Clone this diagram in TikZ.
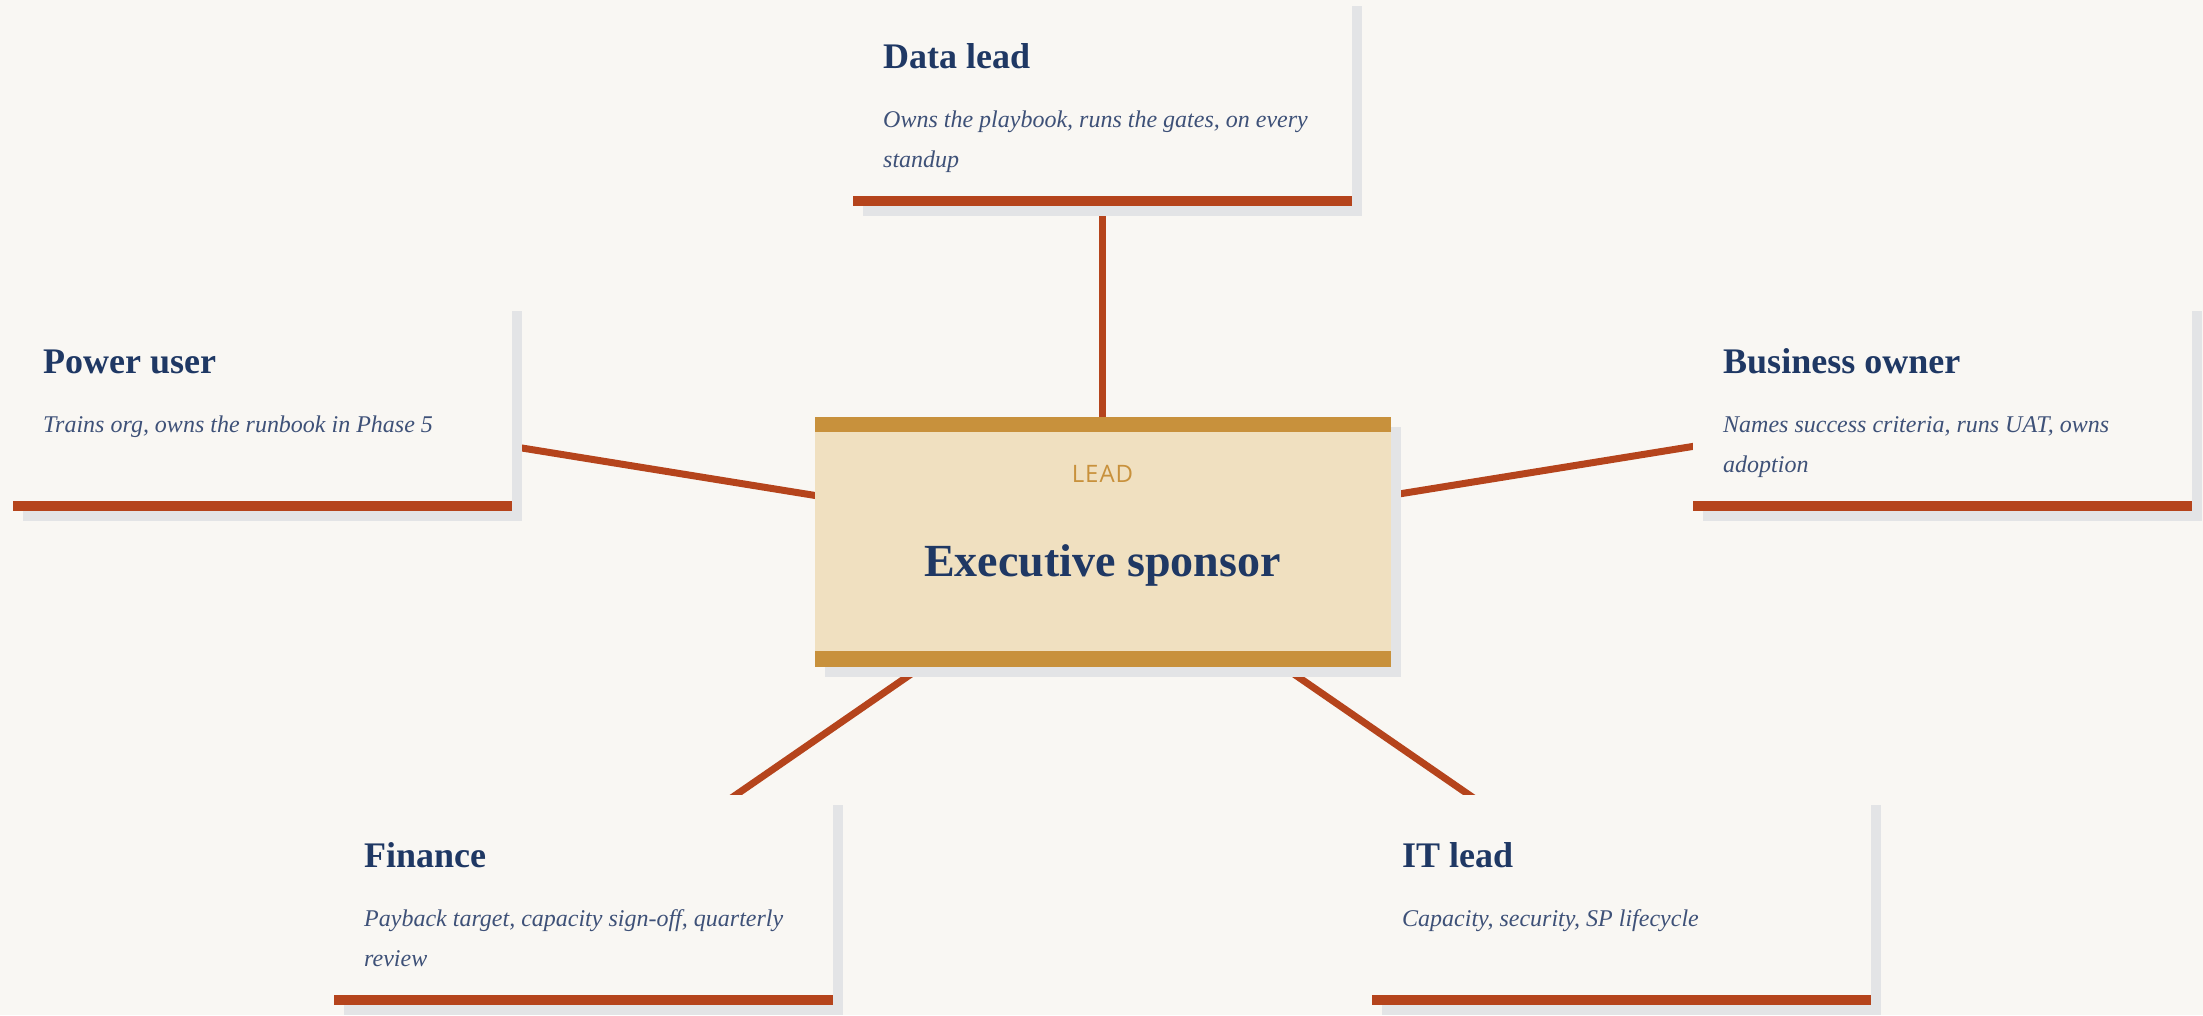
\documentclass[tikz,border=0pt]{standalone}
\usepackage{fontspec}
\setmainfont{Liberation Serif}
\newfontfamily\leadfont[LetterSpace=4]{Open Sans}
\usetikzlibrary{shadows}
\definecolor{bgc}{HTML}{F9F7F3}
\definecolor{shadowc}{HTML}{E3E4E6}
\definecolor{barc}{HTML}{B5441C}
\definecolor{navyc}{HTML}{1F3864}
\definecolor{slatec}{HTML}{3E5178}
\definecolor{execfill}{HTML}{F0E0C0}
\definecolor{goldc}{HTML}{C8913C}
\pgfdeclarelayer{backdrop}
\pgfdeclarelayer{links}
\pgfsetlayers{backdrop,links,main}
\tikzset{
  card/.style={anchor=north west, fill=bgc, minimum width=499pt, minimum height=210pt,
    inner sep=0pt, outer sep=0pt,
    general shadow={fill=shadowc, shadow xshift=10pt, shadow yshift=-10pt}},
  roletitle/.style={anchor=base west, inner sep=0pt, text=navyc,
    font=\bfseries\fontsize{36}{40}\selectfont},
  roledesc/.style={anchor=base west, inner sep=0pt, text=slatec,
    font=\itshape\fontsize{24}{40}\selectfont},
  execbox/.style={fill=execfill, minimum width=576pt, minimum height=250pt,
    inner sep=0pt, outer sep=0pt,
    general shadow={fill=shadowc, shadow xshift=10pt, shadow yshift=-10pt}},
  link/.style={draw=barc, line width=7pt},
}
\newcommand\rolecard[5]{%
  \node[card] (#1) at (#2,#3) {};
  \fill[barc] ([yshift=10pt]#1.south west) rectangle (#1.south east);
  \node[roletitle] (#1-t) at ([xshift=30pt,yshift=-72pt]#1.north west) {#4};
  \node[roledesc] (#1-d) at ([xshift=30pt,yshift=-131pt]#1.north west)
    {\parbox[t]{445pt}{\raggedright #5}};
}
\begin{document}
\begin{tikzpicture}[x=1pt,y=-1pt]
\useasboundingbox (0,0) rectangle (2203,1015);
\begin{pgfonlayer}{backdrop}
  \fill[bgc] (0,0) rectangle (2203,1015);
\end{pgfonlayer}
\clip (0,0) rectangle (2203,1015);

% central node
\node[execbox] (exec) at (1102.5,542) {};
\fill[goldc] (exec.north west) rectangle ([yshift=-15pt]exec.north east);
\fill[goldc] ([yshift=16pt]exec.south west) rectangle (exec.south east);
\node[anchor=base, inner sep=0pt, text=goldc, font=\leadfont\fontsize{24}{28}\selectfont]
  (lead) at (1102.5,482) {LEAD};
\node[anchor=base, inner sep=0pt, text=navyc, font=\bfseries\fontsize{46}{50}\selectfont]
  (execname) at (1102.5,576) {Executive sponsor};

% role cards
\rolecard{data}{853}{-4}{Data lead}{Owns the playbook, runs the gates, on every\\standup}
\rolecard{power}{13}{301}{Power user}{Trains org, owns the runbook in Phase 5}
\rolecard{biz}{1693}{301}{Business owner}{Names success criteria, runs UAT, owns\\adoption}
\rolecard{fin}{334}{795}{Finance}{Payback target, capacity sign-off, quarterly\\review}
\rolecard{it}{1372}{795}{IT lead}{Capacity, security, SP lifecycle}

% connectors
\begin{pgfonlayer}{links}
  \draw[link] (exec.center) -- (data.center);
  \draw[link] (exec.center) -- (power.center);
  \draw[link] (exec.center) -- (biz.center);
  \draw[link] (exec.center) -- (fin.center);
  \draw[link] (exec.center) -- (it.center);
\end{pgfonlayer}
\end{tikzpicture}
\end{document}
